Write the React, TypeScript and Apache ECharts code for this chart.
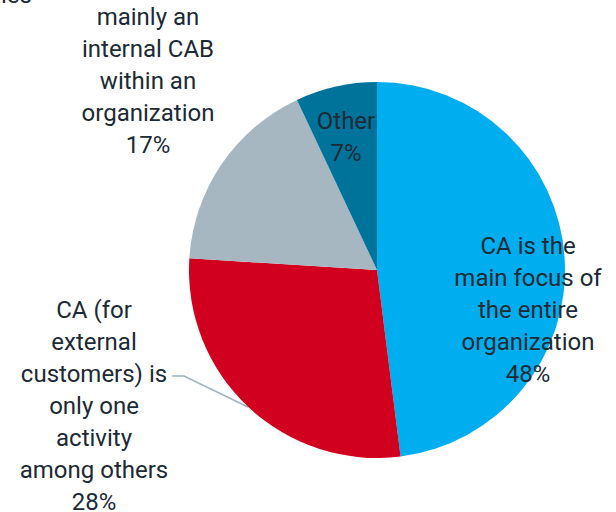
import React, { useEffect, useRef } from "react";
import * as echarts from "echarts";

const categories = [
  "CA is the\nmain focus of\nthe entire\norganization",
  "CA (for\nexternal\ncustomers) is\nonly one\nactivity\namong others",
  "mainly an\ninternal CAB\nwithin an\norganization",
  "Other",
];
const values = [48, 28, 17, 7];
const colors = ["#00AEEF", "#D2001F", "#A6B7C2", "#00739B"];

const TEXT = "#1b2a35";
const FONT = "Roboto, 'Noto Sans', sans-serif";

export default function App() {
  const ref = useRef<HTMLDivElement>(null);
  useEffect(() => {
    if (!ref.current) return;
    const chart = echarts.init(ref.current, undefined, { renderer: "svg" });
    const labelPos = [
      { x: 528, y: 310, inside: true },
      { x: 94, y: 406, inside: false },
      { x: 148, y: 81, inside: false },
      { x: 346, y: 137, inside: true },
    ];
    chart.setOption({
      animation: false,
      backgroundColor: "#ffffff",
      graphic: [
        {
          type: "text",
          left: 1,
          top: -17,
          style: { text: "ies", font: `24px ${FONT}`, fill: TEXT },
        },
      ],
      series: [
        {
          type: "pie",
          center: [377, 270],
          radius: 188,
          startAngle: 90,
          clockwise: true,
          avoidLabelOverlap: false,
          itemStyle: { borderWidth: 0 },
          label: {
            show: true,
            formatter: (p: any) => `${p.name}\n${p.value}%`,
            color: TEXT,
            fontFamily: FONT,
            fontSize: 24,
            lineHeight: 32,
            align: "center",
          },
          labelLine: {
            lineStyle: { color: "#9fb3bf", width: 1.5 },
          },
          labelLayout: (params: any) => {
            const lp = labelPos[params.dataIndex];
            const res: any = {
              x: lp.x,
              y: lp.y,
              align: "center",
              verticalAlign: "middle",
            };
            if (params.dataIndex === 1) {
              res.labelLinePoints = [
                [248, 407],
                [184, 376],
                [172, 376],
              ];
            }
            return res;
          },
          data: values.map((v, i) => ({
            name: categories[i],
            value: v,
            itemStyle: { color: colors[i] },
            label: { position: labelPos[i].inside ? "inside" : "outside" },
            labelLine: { show: i === 1 },
          })),
        },
      ],
    });
    return () => chart.dispose();
  }, []);
  return (
    <div
      ref={ref}
      style={{ position: "fixed", left: 0, top: 0, width: 616, height: 512 }}
    />
  );
}
